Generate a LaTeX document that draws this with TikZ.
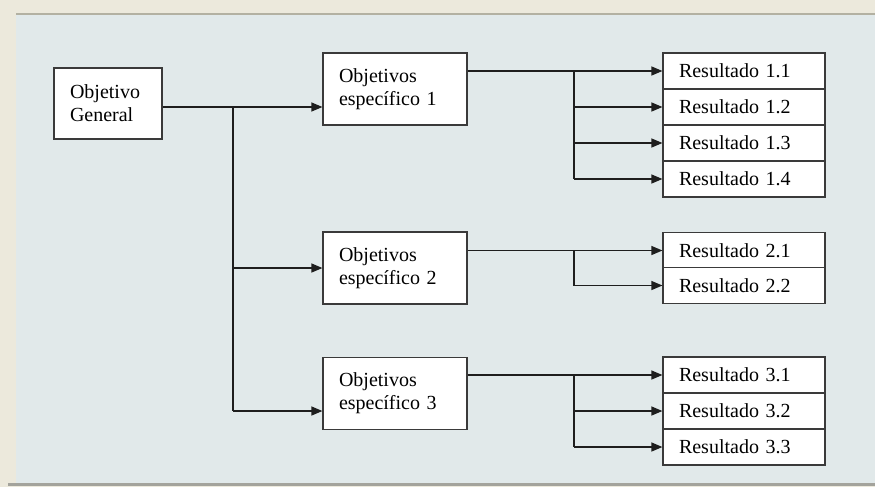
\documentclass[tikz,border=0pt]{standalone}
\usepackage{fontspec}
\setmainfont{Liberation Serif}
\usetikzlibrary{arrows.meta}
\definecolor{outerbg}{HTML}{ECE9DC}
\definecolor{panelbg}{HTML}{E1E9EA}
\definecolor{topline}{HTML}{B3B1A2}
\definecolor{botline}{HTML}{A3A39C}
\definecolor{boxc}{HTML}{3A3A3A}
\definecolor{linec}{HTML}{1E1E1E}
\tikzset{
  basebox/.style={draw=boxc, fill=white, line width=1.2pt, inner sep=0pt,
    align=left, font=\fontsize{20}{23}\selectfont},
  genbox/.style={basebox, minimum width=108pt, minimum height=71pt, text width=76pt},
  objbox/.style={basebox, minimum width=144pt, minimum height=72pt, text width=112pt},
  resbox/.style={basebox, minimum width=162pt, minimum height=36pt, text width=130pt},
  conn/.style={draw=linec, line width=1.3pt},
  arr/.style={conn, -{Triangle[length=11pt,width=9pt]}}
}
\begin{document}
\begin{tikzpicture}[x=1pt,y=-1pt]
\useasboundingbox (0,0) rectangle (875,487);
% background
\fill[outerbg] (0,0) rectangle (875,487);
\fill[panelbg] (16,15) rectangle (875,483);
\draw[topline, line width=2pt] (16,14.5) -- (875,14.5);
\draw[botline, line width=2.5pt] (8,484.5) -- (875,484.5);

% nodes
\node[genbox] (gen) at (108,103.5) {Objetivo\\General};
\node[objbox] (o1) at (395,89) {Objetivos\\específico 1};
\node[objbox] (o2) at (395,268) {Objetivos\\específico 2};
\node[objbox] (o3) at (395,393.5) {Objetivos\\específico 3};

\node[resbox] (r11) at (744,71) {Resultado 1.1};
\node[resbox] (r12) at (744,107) {Resultado 1.2};
\node[resbox] (r13) at (744,143) {Resultado 1.3};
\node[resbox] (r14) at (744,179) {Resultado 1.4};

\node[resbox] (r21) at (744,250.5) {Resultado 2.1};
\node[resbox] (r22) at (744,285.5) {Resultado 2.2};

\node[resbox] (r31) at (744,375) {Resultado 3.1};
\node[resbox] (r32) at (744,411) {Resultado 3.2};
\node[resbox] (r33) at (744,447) {Resultado 3.3};

% left tree
\coordinate (j1) at (233,107);
\coordinate (j2) at (233,268);
\coordinate (j3) at (233,411);
\draw[conn] (gen.east |- j1) -- (j1);
\draw[conn] (j1) -- (j3);
\draw[arr] (j1) -- (o1.west |- j1);
\draw[arr] (j2) -- (o2.west |- j2);
\draw[arr] (j3) -- (o3.west |- j3);

% right trees
\coordinate (k11) at (574,71);
\coordinate (k14) at (574,179);
\draw[conn] (o1.east |- k11) -- (k11);
\draw[conn] (k11) -- (k14);
\foreach \r in {r11,r12,r13,r14}
  \draw[arr] (k11 |- \r.west) -- (\r.west);

\coordinate (k21) at (574,250.5);
\coordinate (k22) at (574,285.5);
\draw[conn] (o2.east |- k21) -- (k21);
\draw[conn] (k21) -- (k22);
\foreach \r in {r21,r22}
  \draw[arr] (k21 |- \r.west) -- (\r.west);

\coordinate (k31) at (574,375);
\coordinate (k33) at (574,447);
\draw[conn] (o3.east |- k31) -- (k31);
\draw[conn] (k31) -- (k33);
\foreach \r in {r31,r32,r33}
  \draw[arr] (k31 |- \r.west) -- (\r.west);
\end{tikzpicture}
\end{document}
